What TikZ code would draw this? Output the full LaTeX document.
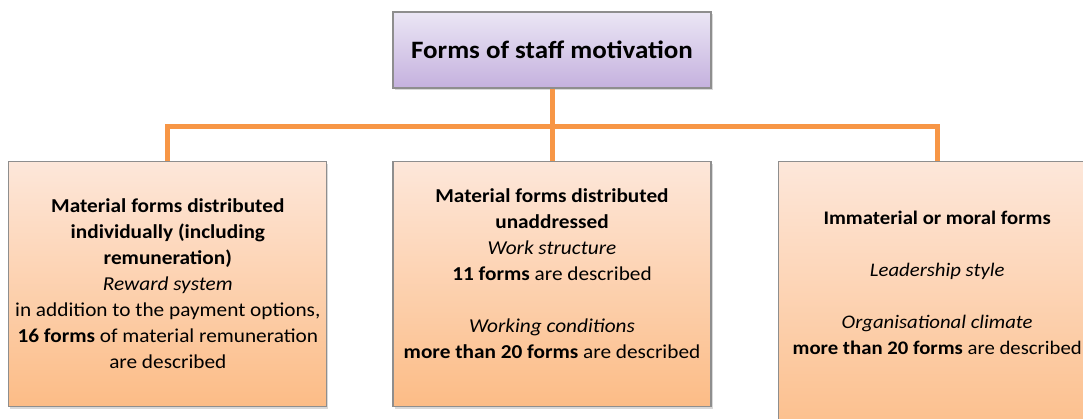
\documentclass[tikz,border=0pt]{standalone}
\usepackage{fontspec}
\setmainfont[FakeStretch=1.08]{Carlito}
\usetikzlibrary{positioning,shadows,calc}

\definecolor{linkorange}{HTML}{F79646}
\definecolor{boxgray}{HTML}{8E8E8E}
\definecolor{peachtop}{HTML}{FDE7DA}
\definecolor{peachbot}{HTML}{FCBC86}
\definecolor{violettop}{HTML}{EBE6F5}
\definecolor{violetbot}{HTML}{C5B1DE}

\begin{document}
\begin{tikzpicture}[x=1pt,y=1pt,thick,
      box/.style={rectangle,draw=boxgray,line width=1.2pt,inner sep=4pt,align=center,
        minimum width=318pt,font=\fontsize{19.7}{26}\selectfont,
        drop shadow={shadow xshift=1.5pt,shadow yshift=-2.5pt,opacity=0.3}},
      top node/.style={box,top color=violettop,bottom color=violetbot,
        minimum height=76pt,font=\fontsize{25}{30}\selectfont\bfseries},
      form node/.style={box,top color=peachtop,bottom color=peachbot,minimum height=245pt},
      link/.style={draw=linkorange,line width=5pt}]

    \useasboundingbox (0,0) rectangle (1083,-419);

    \node[top node] (1) at (552,-50) {Forms of staff motivation};
    \node[form node] (3) [below=72pt of 1] {\textbf{Material forms distributed}\\
      \textbf{unaddressed}\\ \textit{Work structure}\\ \textbf{11 forms} are described\\[26pt]
      \textit{Working conditions}\\ \textbf{more than 20 forms} are described\\[-6pt]~};
    \node[form node] (2) [left=65pt of 3] {\textbf{Material forms distributed}\\
      \textbf{individually (including}\\ \textbf{remuneration)}\\ \textit{Reward system}\\
      in addition to the payment options,\\ \textbf{16 forms} of material remuneration\\
      are described};
    \node[form node,minimum height=290pt,font=\fontsize{19.2}{26}\selectfont] (4)
      [right=66pt of 3.north east,anchor=north west]
      {\textbf{Immaterial or moral forms}\\[26pt] \textit{Leadership style}\\[26pt]
      \textit{Organisational climate}\\ \textbf{more than 20 forms} are described\hspace*{4pt}\\[20pt]~};

    % orange connectors
    \coordinate (bus) at ($(1.south)!0.52!(3.north)$);
    \draw[link] (1.south) -- (3.north);
    \draw[link] (2.north) |- (bus) -| (4.north);
\end{tikzpicture}
\end{document}
